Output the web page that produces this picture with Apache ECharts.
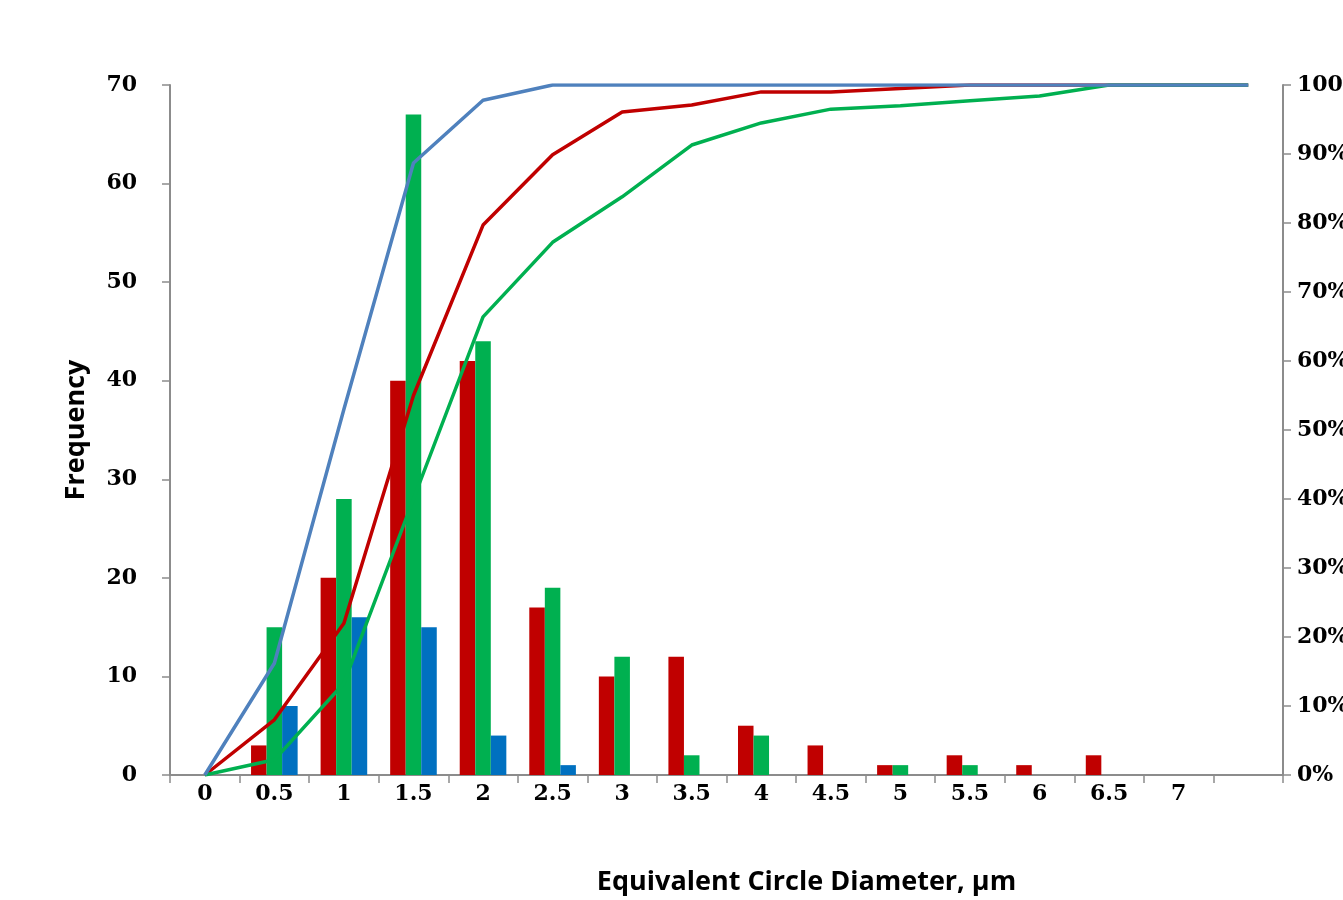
<!DOCTYPE html>
<html>
<head>
<meta charset="utf-8">
<script src="https://cdn.jsdelivr.net/npm/echarts@6/dist/echarts.min.js"></script>
<style>html,body{margin:0;padding:0;background:#fff;}#chart{width:1343px;height:900px;}</style>
</head>
<body>
<div id="chart"></div>
<script>
// Category labels (last one is an empty extra category)
const categories = ['0','0.5','1','1.5','2','2.5','3','3.5','4','4.5','5','5.5','6','6.5','7',''];
// Frequency bars
const redFreq   = [0, 3, 20, 40, 42, 17, 10, 12, 5, 3, 1, 2, 1, 2, 0, 0];
const greenFreq = [0, 15, 28, 67, 44, 19, 12, 2, 4, 0, 1, 1, 0, 0, 0, 0];
const blueFreq  = [0, 7, 16, 15, 4, 1, 0, 0, 0, 0, 0, 0, 0, 0, 0, 0];
// Cumulative percentage lines
const redCum   = [0, 8, 22, 55, 79.7, 89.9, 96.1, 97.1, 99, 99, 99.5, 100, 100, 100, 100, 100];
const greenCum = [0, 2.2, 13.3, 40, 66.4, 77.2, 83.8, 91.3, 94.5, 96.5, 97, 97.7, 98.4, 100, 100, 100];
const blueCum  = [0, 16.2, 53, 88.7, 97.8, 100, 100, 100, 100, 100, 100, 100, 100, 100, 100, 100];

const RED = '#C00000', GREEN = '#00B050', BLUE_BAR = '#0070C0', BLUE_LINE = '#4F81BD';
const axisGray = '#8C8C8C';
const labelFont = {fontFamily: 'DejaVu Serif', fontWeight: 'bold', fontSize: 22, color: '#000'};

const chart = echarts.init(document.getElementById('chart'));
const barCommon = {type: 'bar', yAxisIndex: 0, barGap: '0%', barCategoryGap: '33%', z: 2};
const lineCommon = {type: 'line', yAxisIndex: 1, symbol: 'none', smooth: false, z: 3};
chart.setOption({
  animation: false,
  grid: {left: 170, right: 60, top: 85, bottom: 125, containLabel: false, outerBoundsMode: 'none'},
  xAxis: {
    type: 'category', data: categories, boundaryGap: true,
    axisLine: {show: true, lineStyle: {color: axisGray, width: 2}},
    axisTick: {show: true, inside: false, length: 8, alignWithLabel: false, lineStyle: {color: axisGray, width: 1.5}},
    axisLabel: Object.assign({margin: 8, interval: 0}, labelFont),
    splitLine: {show: false},
    name: 'Equivalent Circle Diameter, μm', nameLocation: 'middle', nameGap: 94,
    nameTextStyle: {fontFamily: 'Open Sans', fontWeight: 'bold', fontSize: 27, color: '#000', padding: [0, 0, 0, 160]}
  },
  yAxis: [
    {
      type: 'value', min: 0, max: 70, interval: 10, position: 'left',
      axisLine: {show: true, lineStyle: {color: axisGray, width: 2}},
      axisTick: {show: true, inside: false, length: 8, lineStyle: {color: axisGray, width: 1.5}},
      axisLabel: Object.assign({margin: 33}, labelFont),
      splitLine: {show: false},
      name: 'Frequency', nameLocation: 'middle', nameGap: 80, nameRotate: 90,
      nameTextStyle: {fontFamily: 'Open Sans', fontWeight: 'bold', fontSize: 27, color: '#000'}
    },
    {
      type: 'value', min: 0, max: 100, interval: 10, position: 'right',
      axisLine: {show: true, lineStyle: {color: axisGray, width: 2}},
      axisTick: {show: true, inside: false, length: 8, lineStyle: {color: axisGray, width: 1.5}},
      axisLabel: Object.assign({margin: 14, formatter: '{value}%'}, labelFont),
      splitLine: {show: false}
    }
  ],
  series: [
    Object.assign({name: 'Red frequency', data: redFreq, itemStyle: {color: RED}}, barCommon),
    Object.assign({name: 'Green frequency', data: greenFreq, itemStyle: {color: GREEN}}, barCommon),
    Object.assign({name: 'Blue frequency', data: blueFreq, itemStyle: {color: BLUE_BAR}}, barCommon),
    Object.assign({name: 'Red cumulative', data: redCum, lineStyle: {color: RED, width: 3.5}, itemStyle: {color: RED}}, lineCommon),
    Object.assign({name: 'Green cumulative', data: greenCum, lineStyle: {color: GREEN, width: 3.5}, itemStyle: {color: GREEN}}, lineCommon),
    Object.assign({name: 'Blue cumulative', data: blueCum, lineStyle: {color: BLUE_LINE, width: 3.5}, itemStyle: {color: BLUE_LINE}}, lineCommon)
  ]
});
</script>
</body>
</html>
